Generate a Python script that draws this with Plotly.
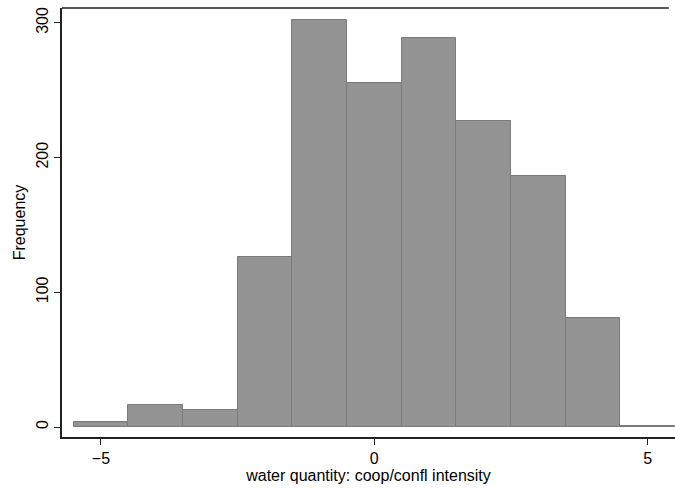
import plotly.graph_objects as go

bin_centers = [-5, -4, -3, -2, -1, 0, 1, 2, 3, 4, 5]
frequencies = [4, 16, 13, 126, 302, 255, 289, 227, 186, 81, 1]
x_ticks = [-5, 0, 5]
y_ticks = [0, 100, 200, 300]

fig = go.Figure()
fig.add_trace(go.Bar(
    x=bin_centers, y=frequencies, width=[1] * len(bin_centers),
    marker=dict(color="#939393", line=dict(color="#7a7a7a", width=1)),
))

font = "Liberation Sans, Arial, Helvetica, sans-serif"
fig.update_layout(
    width=675, height=488,
    margin=dict(l=62, r=0, t=8, b=51),
    plot_bgcolor="white", paper_bgcolor="white",
    bargap=0, showlegend=False,
    font=dict(family=font, size=16, color="black"),
    xaxis=dict(
        range=[-5.713, 5.5], tickvals=x_ticks, ticktext=["−5", "0", "5"],
        showline=True, linecolor="#222", linewidth=1.5, mirror=False,
        ticks="outside", ticklen=6, tickcolor="#222", showgrid=False, zeroline=False,
        title=dict(text="water quantity: coop/confl intensity", font=dict(size=16), standoff=4),
        tickfont=dict(size=16), ticklabelstandoff=0,
    ),
    yaxis=dict(
        range=[-7.4, 311], tickvals=y_ticks, tickangle=-90,
        showline=True, linecolor="#222", linewidth=1.5, mirror=False,
        ticks="outside", ticklen=6, tickcolor="#222", showgrid=False, zeroline=False,
        title=dict(text="Frequency", font=dict(size=16), standoff=4),
        tickfont=dict(size=16),
    ),
    shapes=[dict(type="line", xref="paper", yref="paper", x0=0, x1=0.99, y0=1, y1=1,
                 line=dict(color="#222", width=1.5))],
)
fig.write_html("out.html")
